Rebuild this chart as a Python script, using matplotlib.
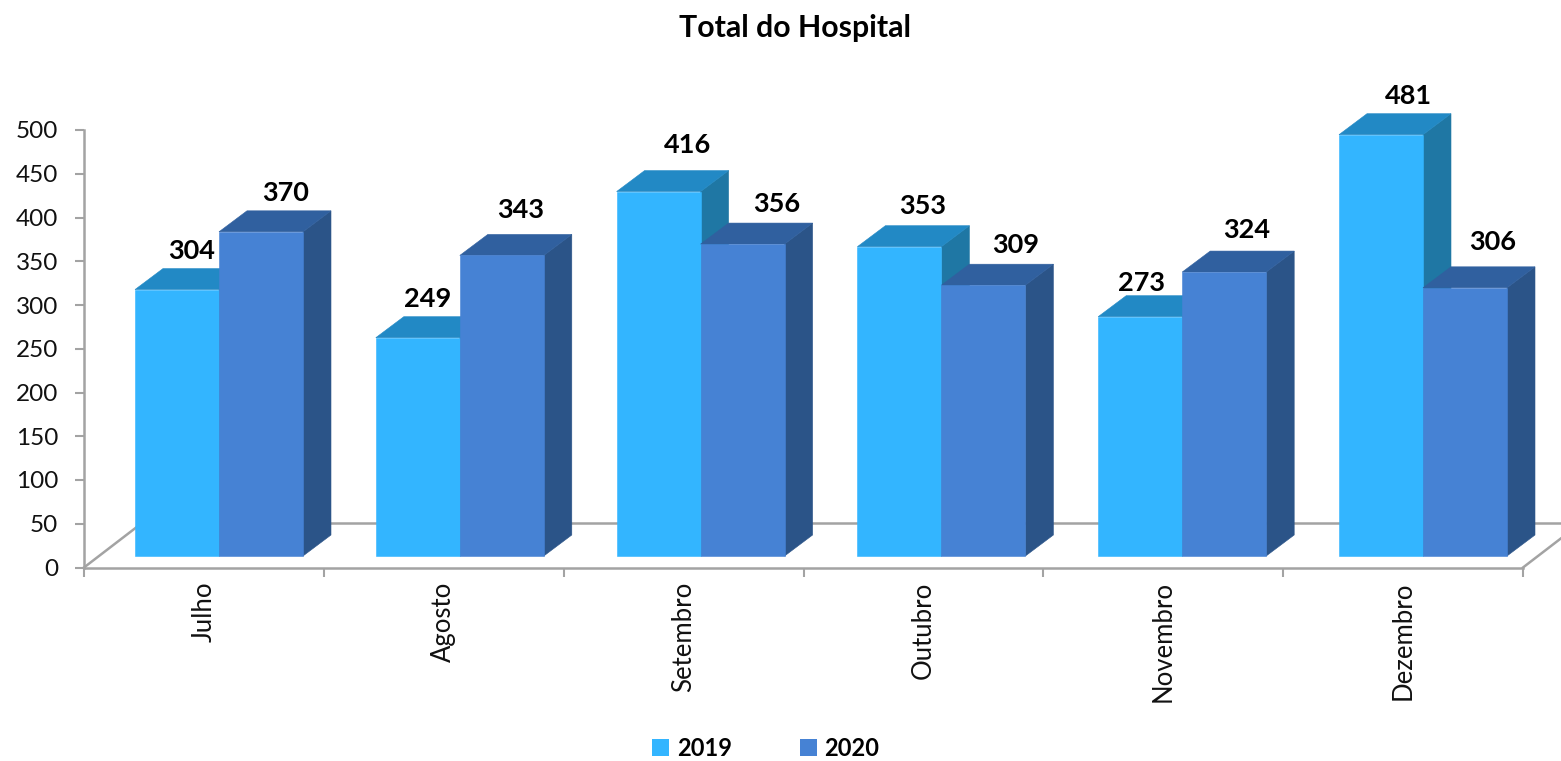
# Total do Hospital - fake 3D columns, 2019 vs 2020

import matplotlib
matplotlib.use('Agg')
import matplotlib.pyplot as plt
from matplotlib.patches import Polygon, Patch

meses = ['Julho', 'Agosto', 'Setembro', 'Outubro', 'Novembro', 'Dezembro']
valores_2019 = [304, 249, 416, 353, 273, 481]
valores_2020 = [370, 343, 356, 309, 324, 306]
anos = ['2019', '2020']
yticks = [0, 50, 100, 150, 200, 250, 300, 350, 400, 450, 500]

# label nudges in pixels (right, up), relative to the back edge of each column top
nudge_2019 = [(1, 18), (-4, 18), (15, 26), (9, 20), (-13, 13), (13, 18)]
nudge_2020 = [(11, 18), (5, 24), (20, 19), (18, 19), (9, 21), (14, 25)]

W, H = 1561, 761
x0_px, x1_px = 84, 1523
y0_px, y500_px = 567.5, 130

plt.rcParams['font.family'] = ['Lato', 'DejaVu Sans']

fig = plt.figure(figsize=(W / 100, H / 100), dpi=100)
ax = fig.add_axes([x0_px / W, 1 - y0_px / H, (x1_px - x0_px) / W, (y0_px - y500_px) / H])
ax.set_xlim(0, 6)
ax.set_ylim(0, 500)

# pixels to data units
px_x = 6 / (x1_px - x0_px)
px_y = 500 / (y0_px - y500_px)

dx = 28 * px_x
dy = 21 * px_y
base = 11.5 * px_y
larg = 84 * px_x
margem = 51 * px_x
passo = 240.8 * px_x
gris = '#a3a3a3'


def coluna(x, v, nudge, frente, topo, lado, z):
    y = v + base + 0.5
    ax.add_patch(Polygon([(x, base), (x + larg, base), (x + larg, y), (x, y)],
                         fc=frente, ec=frente, lw=0.4, zorder=z + 0.2, clip_on=False))
    ax.add_patch(Polygon([(x, y), (x + larg, y), (x + larg + dx, y + dy), (x + dx, y + dy)],
                         fc=topo, ec=topo, lw=0.4, zorder=z + 0.1, clip_on=False))
    ax.add_patch(Polygon([(x + larg, base), (x + larg + dx, base + dy), (x + larg + dx, y + dy), (x + larg, y)],
                         fc=lado, ec=lado, lw=0.4, zorder=z, clip_on=False))
    ax.text(x + larg / 2 + dx / 2 + nudge[0] * px_x, y + dy + nudge[1] * px_y, str(v),
            ha='center', va='center', fontsize=19.5, fontweight='bold', color='black',
            zorder=20, clip_on=False)


# floor
fundo = 44.5 * px_y
recuo = 58 * px_x
ax.plot([0, recuo], [0, fundo], color=gris, lw=1.8, zorder=1, clip_on=False)
ax.plot([recuo, 6 + recuo], [fundo, fundo], color=gris, lw=1.8, zorder=1, clip_on=False)
ax.plot([6, 6 + recuo], [0, fundo], color=gris, lw=1.8, zorder=1, clip_on=False)

for i in range(len(meses)):
    x = margem + i * passo
    coluna(x, valores_2019[i], nudge_2019[i], '#33b5ff', '#2289c5', '#1f77a4', 2 + i)
    coluna(x + larg, valores_2020[i], nudge_2020[i], '#4682d4', '#30609f', '#2b5488', 2.5 + i)

ax.spines['top'].set_visible(False)
ax.spines['right'].set_visible(False)
for s in ['left', 'bottom']:
    ax.spines[s].set_color(gris)
    ax.spines[s].set_linewidth(1.8)

ax.set_yticks(yticks)
ax.set_xticks(range(7))
ax.set_xticklabels([])
ax.set_xticks([i + 0.5 for i in range(6)], minor=True)
ax.set_xticklabels(meses, minor=True, rotation=90, fontsize=18.5, color='#111111')
ax.tick_params(axis='x', which='major', length=6.5, width=1.5, color=gris)
ax.tick_params(axis='x', which='minor', length=0, pad=10)
ax.tick_params(axis='y', length=6.5, width=1.5, color=gris, labelsize=17.5, labelcolor='#111111', pad=12)

fig.text(795 / W, 1 - 28 / H, 'Total do Hospital', ha='center', va='center',
         fontsize=21.8, fontweight='bold', color='black')

handles = [Patch(fc='#33b5ff', ec='none'), Patch(fc='#4682d4', ec='none')]
fig.legend(handles, anos, loc='center', bbox_to_anchor=(766 / W, 1 - 748 / H), ncol=2, frameon=False,
           prop={'size': 17, 'weight': 'bold'}, handlelength=0.72, handleheight=0.72,
           handletextpad=0.34, columnspacing=2.84)

fig.savefig('out.png', dpi=100)
